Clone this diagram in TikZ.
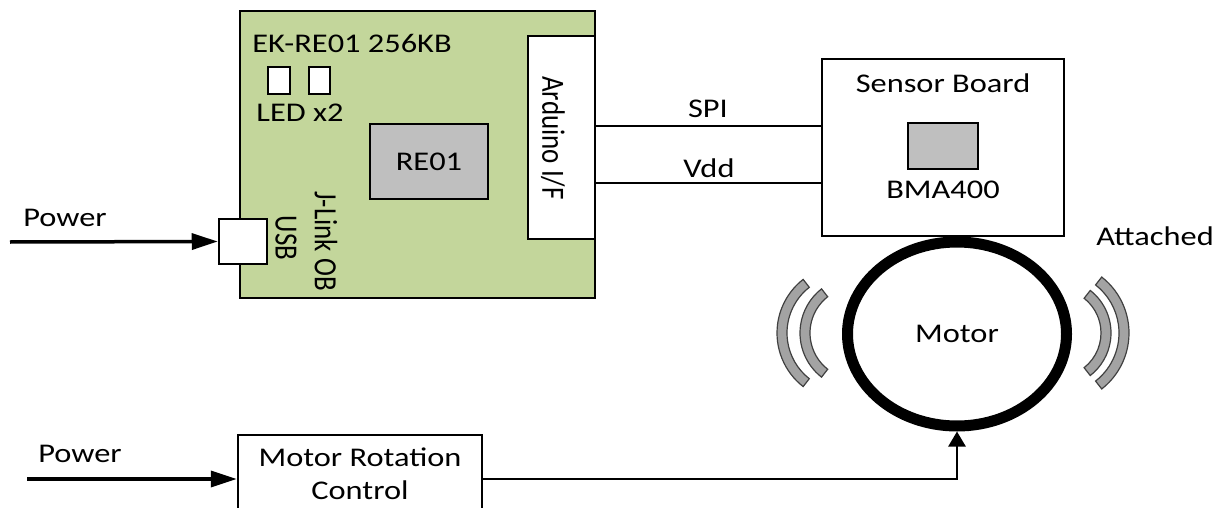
\documentclass[tikz,border=0pt]{standalone}
\usepackage{fontspec}
\setmainfont{Carlito}[FakeStretch=1.2]
\newfontfamily\rotfont{Carlito}
\usetikzlibrary{arrows.meta,shapes.geometric,calc}
\definecolor{boardgreen}{RGB}{195,214,155}
\definecolor{chipgray}{RGB}{191,191,191}
\definecolor{arcgray}{RGB}{163,163,163}
\newcommand\vibarc[6]{%
  \filldraw[fill=arcgray, draw=black!75, line width=1.2pt]
    ($(#1,#2)+(#5:#3)$) arc[start angle=#5, end angle=#6, radius=#3]
    -- ($(#1,#2)+(#6:#4)$) arc[start angle=#6, end angle=#5, radius=#4] -- cycle;}
\begin{document}
\begin{tikzpicture}[x=1pt, y=-1pt,
  font=\fontsize{27}{33}\selectfont,
  blk/.style={draw, line width=2.5pt, inner sep=0pt},
  lbl/.style={inner sep=0pt},
  rlbl/.style={inner sep=0pt, rotate=-90, font=\rotfont\fontsize{27}{33}\selectfont},
  wire/.style={line width=2.5pt},
  pwr/.style={line width=3.5pt, -{Triangle[length=26pt, width=16pt]}},
  upar/.style={line width=2.5pt, -{Triangle[length=15pt, width=17pt]}}]
\useasboundingbox (0,0) rectangle (1223,508);

% main board
\node[blk, fill=boardgreen, minimum width=355pt, minimum height=287pt] (board) at (417.5,154.5) {};
\node[blk, fill=white, minimum width=67pt, minimum height=203pt] (arduino) at (561.5,137.5) {};
\node[rlbl] (ardtxt) at (553,138) {\scalebox{1}[1.2]{Arduino I/F}};
\node[blk, fill=white, minimum width=22pt, minimum height=27pt] (led1) at (279,80.5) {};
\node[blk, fill=white, minimum width=21pt, minimum height=27pt] (led2) at (319.5,80.5) {};
\node[blk, fill=chipgray, minimum width=118pt, minimum height=75pt] (re01) at (429,161.5) {RE01};
\node[blk, fill=white, minimum width=48pt, minimum height=45pt] (usb) at (243,241.5) {};
\node[lbl] (ektxt) at (352,43) {EK-RE01 256KB};
\node[lbl] (ledtxt) at (300,113) {LED x2};
\node[rlbl] (usbtxt) at (286,238) {\scalebox{1}[1.2]{USB}};
\node[rlbl] (jlink) at (326,241) {\scalebox{1}[1.2]{J-Link OB}};

% sensor board
\node[blk, fill=white, minimum width=242pt, minimum height=177pt] (sensor) at (943,147.5) {};
\node[blk, fill=chipgray, minimum width=70pt, minimum height=46pt] (chip) at (943,146) {};
\node[lbl] (sbtxt) at (943,83) {Sensor Board};
\node[lbl] (bmatxt) at (943,190) {BMA400};
\node[lbl] (atttxt) at (1155,236) {Attached};

% SPI / Vdd
\path (arduino.east) ++(0,-11.5) coordinate (spiL);
\path (arduino.east) ++(0,45.5) coordinate (vddL);
\draw[wire] (spiL) -- (spiL -| sensor.west);
\draw[wire] (vddL) -- (vddL -| sensor.west);
\node[lbl] (spitxt) at (708,109) {SPI};
\node[lbl] (vddtxt) at (709,168) {Vdd};

% motor
\node[ellipse, draw, line width=11pt, minimum width=219pt, minimum height=184pt, inner sep=0pt] (motor) at (957,334) {Motor};
\vibarc{845}{333}{68}{58}{128}{232}
\vibarc{856}{333}{56}{46}{128}{232}
\vibarc{1057}{333}{54}{44}{-52}{52}
\vibarc{1058}{333}{71}{61}{-52}{52}

% power inputs
\coordinate (p1) at (10,242);
\node[lbl] (pw1) at (65,218) {Power};
\draw[pwr] (p1) -- (usb.west);

\node[blk, fill=white, minimum width=244pt, minimum height=104pt] (mrc) at (360,487) {};
\node[lbl, align=center] (mrctxt) at (360,474) {Motor Rotation\\Control};
\coordinate (p2) at (27,479);
\node[lbl] (pw2) at (80,454) {Power};
\draw[pwr] (p2) -- (p2 -| mrc.west);

\path (mrc.east) ++(0,-8) coordinate (mrcout);
\draw[upar] (mrcout) -| (motor.south);
\end{tikzpicture}
\end{document}
